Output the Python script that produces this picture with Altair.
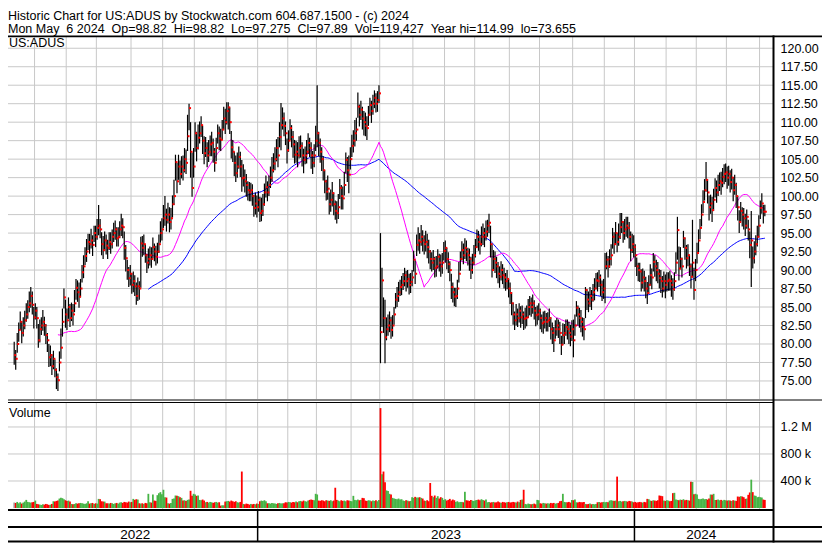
import altair as alt
import pandas as pd

# ---------------- text ----------------
TITLE1 = "Historic Chart for US:ADUS by Stockwatch.com 604.687.1500 - (c) 2024"
NB = "\u00a0\u00a0"
TITLE2 = ("Mon May" + NB + "6 2024" + NB + "Op=98.82" + NB + "Hi=98.82" + NB + "Lo=97.275" + NB +
          "Cl=97.89" + NB + "Vol=119,427" + NB + "Year hi=114.99" + NB + "lo=73.655")
SYMBOL = "US:ADUS"
VOL_LABEL = "Volume"

# NYSE holidays inside the charted period
HOLIDAYS = ["2022-05-30", "2022-06-20", "2022-07-04", "2022-09-05", "2022-11-24", "2022-12-26",
            "2023-01-02", "2023-01-16", "2023-02-20", "2023-04-07", "2023-05-29", "2023-06-19",
            "2023-07-04", "2023-09-04", "2023-11-23", "2023-12-25",
            "2024-01-01", "2024-01-15", "2024-02-19", "2024-03-29"]
START, END = "2022-05-11", "2024-05-06"

# ---------------- daily data ----------------
CLOSE = """
78.5 78.0 80.0 81.9 83.0 81.5 82.5 83.2 84.0 85.0
85.5 86.5 85.3 83.6 84.5 83.5 80.5 82.0 82.5 83.0
82.5 81.2 80.5 78.2 78.5 77.0 78.0 76.5 75.5 75.1
77.5 79.5 83.0 86.3 84.0 83.2 85.0 83.5 84.5 84.0
85.5 87.6 87.0 86.4 87.5 89.7 90.5 91.9 92.5 93.8
93.5 94.0 93.4 95.0 94.5 95.7 96.0 95.5 93.5 92.7
94.0 93.3 93.0 93.8 93.5 94.5 95.0 95.5 94.3 94.5
95.5 96.0 95.8 93.0 91.6 90.0 88.9 89.5 88.0 88.5
87.8 86.5 87.8 87.5 93.6 93.0 93.5 92.0 91.0 91.5
92.0 91.5 93.1 92.5 91.8 92.5 93.5 95.0 95.5
97.0 97.5 96.8 97.5 96.5 97.0 98.9 100.0 104.6 102.0
104.0 103.0 104.0 103.5 105.0 104.5 108.1 111.9 106.0 101.1
104.0 108.5 106.5 107.9 108.5 109.6 107.5 105.8 106.5 105.5
106.0 107.0 107.2 106.0 104.5 106.5 108.5 107.8 107.6 109.0
110.5 110.0 111.5 112.0 110.0 106.6 106.0 104.5 103.1 104.0
105.3 104.0 102.4 102.5 102.0 101.5 100.8 100.5 100.8 100.0
98.4 99.0 98.5 99.5 97.7 98.0 98.9 100.5 101.2 100.5
101.5 102.5 103.5 104.4 105.0 106.5 105.5 108.0 109.6 110.5
109.5 108.5 106.2 107.5 109.2 108.0 107.0 105.6 106.0 105.5
106.5 106.8 105.5 104.9 105.5 106.0 107.2 106.5 105.5
104.5 105.5 107.5 108.5 107.2 106.0 105.0 103.5 102.0 100.6
101.0 98.9 99.5 100.4 98.9 98.0 97.7 98.5 101.1 100.0
99.7 101.5 104.9 103.5 102.9 105.0 106.8 107.5 108.5 109.0
112.1 111.0 111.7 110.5 110.0 109.5 109.2 111.0 112.3 111.5
112.5 113.3 112.5 113.0 113.9 81.6 88.6 83.5 80.9 82.0
82.5 83.2 81.9 82.5 84.0 86.0 86.5 87.0 87.7 88.0
88.5 89.3 88.5 88.8 88.0 88.4 89.0 91.4 89.5 93.4
94.0 93.8 94.5 94.0 93.5 93.8 93.1 92.5 91.5 91.0
91.5 90.3 90.5 91.8 91.0 90.5 91.0 92.6 93.0 91.5
90.8 90.0 87.7 87.0 86.4 86.5 87.5 89.5 91.5
92.7 92.0 93.0 92.5 92.0 91.5 90.0 91.0 92.0 93.1
94.5 93.8 93.5 94.5 95.0 94.5 95.2 96.0 96.4 93.5
90.0 91.5 91.0 90.5 89.5 89.1 90.0 89.3 89.0 88.5
88.8 87.5 86.9 85.5 84.0 83.2 84.0 83.5 84.5 83.6
84.0 83.4 83.5 83.6 85.0 85.5 85.0 85.5 84.5 83.9
84.0 84.5 83.5 82.8 83.0 83.5 83.0 83.2 83.5 82.0
81.5 80.5 82.0 82.5 82.0 81.5 79.9 81.2 81.5 82.3
82.0 81.5 81.0 82.0 80.5 82.5 84.9 84.0 83.5 83.0
82.3 82.0 87.3 86.0 85.5 86.5 86.0 87.0 87.5 88.6
88.5 89.0 88.0 87.0 87.5 90.5 91.4 90.5 91.5
92.0 94.5 93.5 95.0 93.8 94.5 95.8 96.5 95.0 95.5
96.0 95.7 94.5 92.7 93.5 93.1 92.0 90.5 90.0 89.8
88.3 89.0 88.5 87.5 86.9 88.0 89.3 89.0 91.1 90.5
90.0 89.5 88.9 88.5 87.5 88.5 88.0 88.5 88.7 88.5
88.0 87.4 88.5 91.0 95.4 90.2 91.5 90.5 94.3 93.0
91.6 92.0 90.5 89.1 91.0 87.3 90.0 92.3 94.0 95.7
97.5 99.2 100.8 102.2 100.5 98.5 99.0 98.1 99.5 101.1
100.5 101.5 102.0 101.8 102.6 103.0 103.2 102.5 103.0
101.9 102.5 100.8 101.5 100.0 98.5 96.5 98.0 97.5 97.0
96.0 97.2 95.5 93.4 94.0 91.6 92.5 93.5 94.5 96.0
98.4 99.0 97.9 97.89
"""

# distance from close up to the day's high
UP = """
1.8 1.2 1.5 1.0 1.4 1.6 1.1 1.3 1.5 0.9
1.6 1.2 1.8 1.4 1.0 1.5 2.2 1.3 1.1 1.6
1.2 1.5 1.0 1.8 1.3 1.6 1.1 1.4 1.2 0.9
1.5 2.6 1.8 1.2 2.0 1.6 1.3 1.9 1.1 1.4
1.8 1.2 1.6 1.9 1.3 1.0 1.5 1.2 1.7 1.1
1.4 1.6 1.3 1.0 1.5 1.2 2.8 1.4 1.6 1.9
1.2 1.5 1.1 1.3 1.6 1.0 1.4 1.2 1.5 1.3
1.1 1.6 1.2 2.2 1.8 1.4 1.5 1.2 1.6 1.3
1.5 1.8 1.2 1.0 0.9 1.6 1.3 1.5 1.2 1.4
1.2 1.6 1.3 1.1 1.5 1.2 1.3 1.6 1.5
1.8 2.5 1.5 1.6 2.0 1.4 1.2 2.2 1.0 2.5
1.6 1.8 1.4 2.0 1.5 1.8 2.9 0.6 4.0 4.8
2.5 1.5 2.2 1.8 1.6 1.2 2.0 2.3 1.5 1.8
1.6 1.2 1.5 1.8 2.0 1.4 1.2 1.6 1.5 1.3
1.6 1.8 1.2 0.7 2.0 2.2 1.6 1.5 2.4 1.9
1.4 2.0 2.5 1.8 1.6 1.5 1.2 1.4 1.0 1.6
1.8 1.5 1.6 1.2 2.2 1.8 1.4 1.2 1.6 1.5
1.3 1.5 1.8 1.4 1.6 1.2 2.5 2.0 3.0 1.5
1.8 1.6 1.6 1.4 1.2 1.6 1.8 2.0 1.5 1.8
1.6 1.4 1.8 1.5 1.2 1.6 1.3 1.4 1.8
1.6 1.5 2.0 6.5 1.5 1.8 1.6 1.9 1.5 1.6
1.8 1.6 1.4 1.5 1.6 1.4 1.6 1.8 1.2 1.5
1.6 1.8 1.0 1.8 2.6 1.6 1.5 1.4 1.8 1.6
1.9 1.4 1.2 1.6 1.5 1.8 1.6 1.2 1.0 1.4
1.2 1.0 1.4 1.2 1.1 13.4 1.7 2.8 5.1 1.6
1.5 1.2 1.8 1.4 1.0 0.9 1.2 1.4 1.0 1.2
1.1 1.0 1.4 1.2 1.5 1.2 1.0 1.2 1.8 1.4
1.8 1.2 1.6 1.4 1.2 1.5 1.8 1.6 1.2 1.4
1.2 1.5 1.4 1.0 1.2 1.6 1.3 1.2 1.0 1.5
1.6 1.2 1.8 1.3 1.2 1.1 1.2 1.6 1.0
1.2 1.6 1.3 1.5 1.0 1.4 1.8 1.2 1.4 1.1
1.0 1.5 1.2 1.4 1.3 1.2 1.5 0.8 1.2 2.5
3.5 1.2 1.5 1.3 1.6 1.4 1.2 1.5 1.3 1.1
1.2 1.3 1.4 1.5 1.6 1.2 1.4 1.3 1.0 1.5
1.2 1.0 1.4 1.6 1.1 1.0 1.3 1.2 1.4 1.1
1.2 1.0 1.3 1.2 1.4 1.0 1.2 1.1 1.3 1.6
1.4 1.8 1.2 1.0 1.3 1.5 1.2 1.6 1.2 1.0
1.3 1.5 1.6 1.2 2.8 1.5 0.9 1.2 1.4 1.6
1.3 1.5 0.4 1.4 1.6 1.2 1.3 1.1 1.4 1.0
1.2 1.0 1.4 1.6 1.3 1.8 1.0 1.4 1.3
1.5 1.2 1.6 1.5 1.2 1.8 1.9 1.2 1.6 1.4
1.2 1.5 2.0 2.5 1.4 1.6 1.5 1.2 1.0 1.2
1.8 1.2 1.4 1.6 1.5 1.3 1.5 1.2 1.2 1.5
1.4 1.6 1.2 1.5 1.7 1.3 1.4 1.2 1.0 1.4
1.3 1.5 1.2 1.4 1.8 3.0 1.6 1.2 1.0 1.4
1.8 1.5 1.6 1.8 5.8 3.0 1.5 1.4 1.5 1.2
1.4 1.6 1.5 2.4 1.8 1.6 1.2 1.8 1.5 1.3
1.6 1.4 1.2 1.5 1.2 1.3 1.2 1.5 1.1
1.6 1.2 1.8 1.4 1.8 1.5 1.6 1.2 1.0 1.4
1.6 1.0 1.3 1.8 4.0 1.6 1.4 1.2 1.5 1.4
1.0 1.4 0.9 0.93
"""

# distance from close down to the day's low
DN = """
1.3 1.5 1.2 1.6 1.1 1.4 1.5 1.2 1.0 1.6
1.2 1.6 1.3 1.5 1.2 1.4 1.0 1.8 1.3 1.2
1.4 1.2 1.6 1.3 1.5 1.2 1.4 1.0 1.6 1.445
1.2 1.5 2.0 1.5 1.8 1.3 1.6 1.2 1.4 1.5
1.2 1.6 1.3 1.5 1.2 1.4 1.6 1.2 1.4 1.1
1.3 1.1 1.5 1.2 1.4 1.6 1.3 1.2 1.5 1.2
1.4 1.2 1.5 1.1 1.3 1.6 1.2 1.4 1.1 1.3
1.2 1.4 1.5 1.6 1.8 1.3 1.2 1.6 1.2 1.5
1.3 1.2 2.0 1.5 6.0 1.2 1.5 1.0 1.4 1.3
1.4 1.2 1.5 1.3 1.2 1.6 1.2 1.3 1.5
1.3 1.5 1.6 1.2 1.4 1.5 1.8 1.2 2.5 1.6
1.8 1.5 1.6 1.4 1.8 1.5 2.0 3.0 3.5 1.2
1.5 2.5 1.8 1.6 1.4 1.6 1.8 1.5 1.2 1.6
1.4 1.6 1.8 1.5 1.2 1.8 1.4 1.6 1.5 1.4
1.5 1.6 1.8 3.0 1.6 1.5 1.4 1.8 1.2 1.5
1.6 1.4 1.8 1.2 1.5 1.6 1.4 1.2 1.5 1.3
1.2 1.5 1.4 1.6 1.2 1.4 1.6 1.8 1.4 1.2
1.5 1.4 1.6 1.2 1.5 1.8 1.6 1.4 3.4 1.5
1.4 1.6 1.8 1.5 1.6 1.4 1.8 1.2 1.5 1.6
1.4 1.6 1.5 1.8 1.2 1.6 1.5 1.2 1.8
1.5 1.6 1.4 1.9 1.8 1.5 1.6 1.4 1.6 1.2
1.5 1.4 1.6 1.8 1.5 1.2 1.4 1.6 1.5 1.8
1.5 1.4 1.8 1.6 2.5 1.4 1.5 1.6 1.8 1.5
1.5 1.6 1.4 1.5 1.8 1.4 1.6 1.5 1.4 1.6
1.5 1.4 1.2 1.6 1.3 4.2 6.3 2.0 3.5 1.5
1.4 1.6 1.2 1.5 1.4 1.2 1.5 1.3 1.2 1.4
1.2 1.5 1.4 1.2 1.3 1.5 1.2 1.6 1.4 1.5
1.4 1.6 1.2 1.5 1.4 1.3 1.5 1.6 1.4 1.2
1.5 1.3 1.4 1.6 1.2 1.4 1.5 1.3 2.0 1.4
1.2 1.5 1.6 1.4 1.3 1.5 1.4 1.2 1.6
1.4 1.2 1.5 1.3 1.4 1.6 1.2 1.5 1.3 1.4
1.5 1.2 1.4 1.3 1.6 1.4 1.2 1.5 1.4 1.8
1.0 1.5 1.4 1.6 1.3 1.5 1.4 1.2 1.5 1.3
1.4 1.2 1.5 1.6 1.4 1.3 1.5 1.2 1.6 1.4
1.3 1.5 1.4 1.2 1.5 1.6 1.3 1.4 1.2 1.5
1.4 1.3 1.5 1.2 1.6 1.4 1.3 1.5 1.2 1.4
1.5 1.6 1.3 1.4 1.2 1.5 1.4 1.3 1.5 1.2
1.4 1.5 1.3 1.6 2.3 1.4 1.2 1.5 1.3 1.4
1.3 1.5 3.8 1.4 1.2 1.5 1.4 1.3 1.6 1.2
1.4 1.3 1.5 1.2 1.4 5.0 1.3 1.5 1.2
1.4 1.6 1.3 1.5 1.4 1.2 1.6 1.5 1.3 1.4
1.5 1.4 1.6 1.5 1.2 1.4 1.6 1.3 1.5 1.4
1.2 1.5 1.4 1.3 1.5 1.2 1.4 1.6 1.3 1.4
1.5 1.3 1.4 1.6 1.2 1.5 1.8 1.4 1.5 1.3
1.6 1.4 1.3 1.5 4.0 1.6 1.4 1.5 1.3 1.6
1.4 1.5 1.3 1.6 2.0 1.3 1.5 1.4 1.6 1.5
1.6 1.5 1.4 1.6 1.5 1.8 1.4 1.6 1.5 1.3
1.4 1.5 1.3 1.6 1.4 1.4 1.3 1.5 1.6
1.4 1.6 1.5 1.3 1.6 1.8 1.5 1.4 1.6 1.5
1.4 1.6 1.5 1.8 6.3 1.4 1.6 1.5 1.3 1.6
1.5 1.4 1.6 0.615
"""

# daily volume, thousands of shares
VOLK = """
80 75 90 70 85 65 80 95 120 90
85 80 85 90 110 60 55 50 45 55
50 60 55 45 50 60 100 95 105 110
140 150 145 130 115 105 110 95 60 55
60 70 65 70 75 70 65 60 70 100
65 70 75 60 70 65 135 130 100 95
95 70 70 65 75 70 60 70 75 65
80 85 75 90 85 80 95 85 90 135
120 130 125 70 65 70 60 75 70 210
85 80 200 110 105 190 220 235 205
270 160 155 70 65 75 135 140 185 180
175 160 150 110 115 105 120 125 255 180
210 200 180 185 120 115 125 110 85 90
80 90 85 75 85 90 80 85 35 40
40 95 100 105 95 110 100 90 100 85
80 90 540 60 55 65 60 50 60 55
60 55 65 60 100 110 105 115 100 70
70 65 75 70 65 60 70 75 65 70
70 85 80 90 85 80 90 85 95 85
100 105 95 110 100 95 110 120 125
120 115 210 200 110 105 115 110 100 115
110 105 115 100 110 300 120 110 100 115
105 110 100 115 110 105 100 180 120 115
125 115 120 150 145 110 105 115 110 100
110 105 115 100 120 1480 500 540 380 260
250 210 200 150 140 135 130 140 125 130
110 105 115 110 100 105 160 150 165 155
155 160 150 140 110 105 115 100 370 180
160 185 150 175 140 160 150 120 130 110
120 135 110 125 115 90 100 85 90
90 85 240 115 110 105 120 110 105 115
120 125 115 130 120 110 125 85 90 80
85 90 80 85 95 85 75 90 85 80
85 90 80 85 90 85 80 95 85 120
125 270 60 55 65 60 55 60 65 55
120 115 70 65 75 70 65 70 65 75
70 75 65 70 75 100 105 210 90 85
85 90 80 120 115 125 85 80 90 85
85 90 60 55 60 65 55 60 55 60
85 90 80 85 90 85 90 85 110
115 110 105 110 465 100 105 95 100 105
100 95 105 100 95 85 90 80 85 90
85 80 90 85 135 130 110 105 115 110
105 115 185 180 175 110 105 115 110 100
105 220 225 125 120 115 125 120 130 115
120 115 110 390 385 205 210 200 135 130
135 140 130 135 125 140 200 195 210 120
120 125 115 120 110 120 115 110 115
110 105 115 110 105 170 165 175 170 160
135 140 195 230 420 235 185 180 160 165
160 155 125 119.427
"""

PRICE_TICKS = [75.0, 77.5, 80.0, 82.5, 85.0, 87.5, 90.0, 92.5, 95.0, 97.5, 100.0,
               102.5, 105.0, 107.5, 110.0, 112.5, 115.0, 117.5, 120.0]
VOL_TICKS = [400000, 800000, 1200000]


def nums(s):
    return [float(v) for v in s.split()]


close, up, dn, volk = nums(CLOSE), nums(UP), nums(DN), nums(VOLK)
dates = pd.bdate_range(START, END)
dates = dates[~dates.isin(pd.to_datetime(HOLIDAYS))]
n = len(dates)
assert len(close) == n and len(up) == n and len(dn) == n and len(volk) == n, (n, len(close), len(up), len(dn), len(volk))

df = pd.DataFrame({
    "i": list(range(n)),
    "date": dates.strftime("%Y-%m-%d"),
    "close": close,
    "high": [c + u for c, u in zip(close, up)],
    "low": [c - d for c, d in zip(close, dn)],
    "vol": [v * 1000 for v in volk],
})

# month and year boundaries (between last day of a month and first day of the next)
per = dates.to_period("M")
month_b = [i - 0.5 for i in range(1, n) if per[i] != per[i - 1]]
year_b = [i - 0.5 for i in range(1, n) if dates[i].year != dates[i - 1].year]

# ---------------- layout (pixels) ----------------
W, H = 814, 535
XR = 765                 # right edge of plot panels (axis line)
P_TOP, P_BOT = 29, 391   # price panel
V_TOP, V_BOT = 395, 501  # volume panel
FONT = "Liberation Sans"
GRID = "#c8c8c8"

X_DOM = [-0.8, 500.1]
xS = alt.Scale(domain=X_DOM, range=[0, XR], nice=False, zero=False)
# 120.00 sits at y=40.3, 7.393 px per dollar
yP = alt.Scale(domain=[72.56, 121.52], range=[P_BOT, P_TOP], nice=False, zero=False)
yV = alt.Scale(domain=[0, 1555000], range=[500, V_TOP], nice=False, zero=False)

X = alt.X("i:Q", scale=xS, axis=None)
dummy = pd.DataFrame({"a": [1]})

edges = [X_DOM[0]] + year_b + [X_DOM[1]]
years_df = pd.DataFrame({
    "c": [(edges[k] + edges[k + 1]) / 2 for k in range(len(edges) - 1)],
    "label": [str(dates[0].year + k) for k in range(len(edges) - 1)],
})

mdf = pd.DataFrame({"i": month_b})
ydf = pd.DataFrame({"i": year_b})

vgrid_p = alt.Chart(mdf).mark_rule(color=GRID, strokeWidth=1).encode(
    x=X, y=alt.value(P_TOP), y2=alt.value(P_BOT))
vgrid_v = alt.Chart(mdf).mark_rule(color=GRID, strokeWidth=1).encode(
    x=X, y=alt.value(V_TOP), y2=alt.value(V_BOT))

hgrid_p = alt.Chart(pd.DataFrame({"p": PRICE_TICKS})).mark_rule(color=GRID, strokeWidth=1).encode(
    y=alt.Y("p:Q", scale=yP, axis=alt.Axis(
        orient="right", offset=XR - W, values=PRICE_TICKS, format=".2f", grid=False,
        ticks=False, domain=False, labelPadding=7, labelFont=FONT, labelFontSize=12.5,
        labelColor="black", labelAlign="left", labelBaseline="middle", title=None)),
    x=alt.value(0), x2=alt.value(XR))

hgrid_v = alt.Chart(pd.DataFrame({"v": VOL_TICKS})).mark_rule(color=GRID, strokeWidth=1).encode(
    y=alt.Y("v:Q", scale=yV, axis=alt.Axis(
        orient="right", offset=XR - W, values=VOL_TICKS, grid=False, ticks=False, domain=False,
        labelPadding=7, labelFont=FONT, labelFontSize=12.5, labelColor="black",
        labelAlign="left", labelBaseline="middle", title=None,
        labelExpr="datum.value >= 1000000 ? format(datum.value/1000000, '.1f') + ' M' : format(datum.value/1000, 'd') + ' k'")),
    x=alt.value(0), x2=alt.value(XR))

base = alt.Chart(df)

ma30 = base.transform_window(
    ma="mean(close)", cnt="count()", frame=[-29, 0], sort=[alt.SortField("i")]
).transform_filter("datum.cnt >= 30").mark_line(color="#ff00ff", strokeWidth=1).encode(
    x=X, y=alt.Y("ma:Q", scale=yP, axis=None))

ma90 = base.transform_window(
    ma="mean(close)", cnt="count()", frame=[-89, 0], sort=[alt.SortField("i")]
).transform_filter("datum.cnt >= 90").mark_line(color="#0000ff", strokeWidth=1).encode(
    x=X, y=alt.Y("ma:Q", scale=yP, axis=None))

bars = base.mark_rule(color="black", strokeWidth=1.2).encode(
    x=X, y=alt.Y("low:Q", scale=yP, axis=None), y2="high:Q")

ticks = base.mark_square(color="#ff0000", size=4, opacity=1, strokeWidth=0, xOffset=1).encode(
    x=X, y=alt.Y("close:Q", scale=yP, axis=None))

vol = base.transform_window(
    prev="lag(close)", sort=[alt.SortField("i")]
).transform_calculate(
    dir="datum.prev == null ? 'same' : (datum.close > datum.prev ? 'up' : (datum.close < datum.prev ? 'down' : 'same'))"
).mark_bar(size=1.8).encode(
    x=X, y=alt.Y("vol:Q", scale=yV, axis=None), y2=alt.value(V_BOT),
    color=alt.Color("dir:N", scale=alt.Scale(domain=["up", "down", "same"],
                                             range=["#46b446", "#ff0000", "#a8a8a8"]), legend=None))


def hline(y, x1, x2, w=1.0):
    return alt.Chart(dummy).mark_rule(color="black", strokeWidth=w).encode(
        x=alt.value(x1), x2=alt.value(x2), y=alt.value(y))


def vline(x, y1, y2, w=1.0):
    return alt.Chart(dummy).mark_rule(color="black", strokeWidth=w).encode(
        x=alt.value(x), y=alt.value(y1), y2=alt.value(y2))


frame = [
    hline(28.4, 0, W, 1.6),
    hline(392, 0, W, 1),
    hline(394.5, 0, XR + 1, 1),
    hline(502, 0, XR + 1, 2),
    hline(519, 0, W, 2),
    hline(533.5, 0, W, 2),
    vline(XR + 0.5, 27.6, 534.5, 2),
]

year_div = alt.Chart(ydf).mark_rule(color="black", strokeWidth=1.5).encode(
    x=X, y=alt.value(502), y2=alt.value(533))

year_txt = alt.Chart(years_df).mark_text(font=FONT, fontSize=13.5, color="black",
                                         baseline="middle").encode(
    x=alt.X("c:Q", scale=xS, axis=None), y=alt.value(527), text="label:N")


def label(txt, x, y, size=13.5, baseline="alphabetic"):
    return alt.Chart(dummy).mark_text(font=FONT, fontSize=size, color="black", align="left",
                                      baseline=baseline).encode(
        x=alt.value(x), y=alt.value(y), text=alt.value(txt))


texts = [
    label(TITLE1, 0, 11.5, size=12.5),
    label(TITLE2, 0, 25.3, size=12.5),
    label(SYMBOL, 1, 35.3, size=12.5, baseline="middle"),
    label(VOL_LABEL, 1, 405, size=12.5, baseline="middle"),
]

chart = alt.layer(
    vgrid_p, vgrid_v, hgrid_p, hgrid_v,
    vol, ma90, ma30, bars, ticks,
    *frame, year_div, year_txt, *texts
).resolve_scale(y="independent").properties(
    width=W, height=H, padding=0, autosize=alt.AutoSizeParams(type="none"),
    background="white"
).configure_view(stroke=None)

chart.save("out.html", embed_options={"renderer": "svg", "actions": False})
